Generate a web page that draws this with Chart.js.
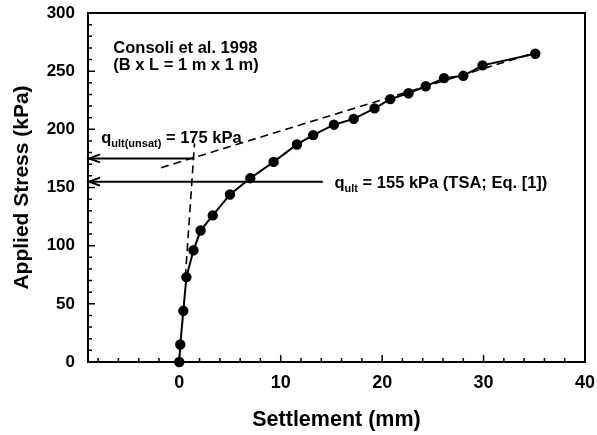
<!DOCTYPE html>
<html lang="en">
<head>
  <meta charset="UTF-8">
  <title>Consoli et al. 1998</title>
  <script src="https://cdn.jsdelivr.net/npm/chart.js"></script>
  <style>
    html, body { margin: 0; padding: 0; background: #fff; }
    #wrap { width: 597px; height: 435px; }
  </style>
</head>
<body>
  <div id="wrap"><canvas id="settle-chart" width="597" height="435"></canvas></div>

  <script>
    // measured load test
    const settlement = [0, 0.1, 0.4, 0.7, 1.4, 2.1, 3.3, 5.0, 7.0, 9.3, 11.6, 13.2, 15.25, 17.2, 19.25, 20.8, 22.6, 24.3, 26.1, 28.0, 29.9, 35.1];
    const stress = [0, 15, 44, 73, 96, 113, 126, 144, 158, 172, 187, 195, 204, 209, 218, 226, 231, 237, 244, 246, 255, 265];

    // tangent construction lines
    const upperTanX = [-1.8, 35.5];
    const upperTanY = [167, 267];
    const initTanX = [0.6, 1.5];
    const initTanY = [73, 188];

    // ultimate capacity arrows
    const qUnsat = 175;
    const qTsa = 155;
    const unsatArrowX = [1.48, -9];
    const tsaArrowX = [14.15, -9];

    // axes
    const xMin = -9, xMax = 40;
    const yMin = 0, yMax = 300;
    const xTickValues = [0, 10, 20, 30, 40];
    const yTickValues = [0, 50, 100, 150, 200, 250, 300];
    const xMinorTicks = [-8, -6, -4, -2, 2, 4, 6, 8, 12, 14, 16, 18, 22, 24, 26, 28, 32, 34, 36, 38];
    const yMinorTicks = [10, 20, 30, 40, 60, 70, 80, 90, 110, 120, 130, 140, 160, 170, 180, 190, 210, 220, 230, 240, 260, 270, 280, 290];

    const FONT = 'Liberation Sans, Arial, Helvetica, sans-serif';

    const pts = (xs, ys) => xs.map((x, i) => ({ x: x, y: ys[i] }));

    // frame, inward ticks, arrowheads and text labels
    const decorations = {
      id: 'decorations',
      afterDatasetsDraw(chart) {
        const ctx = chart.ctx;
        const xs = chart.scales.x, ys = chart.scales.y;
        const a = chart.chartArea;
        ctx.save();
        ctx.strokeStyle = '#000';
        ctx.fillStyle = '#000';

        ctx.lineWidth = 2;
        ctx.strokeRect(a.left, a.top, a.right - a.left, a.bottom - a.top);

        ctx.lineWidth = 1.5;
        ctx.beginPath();
        xTickValues.forEach(v => {
          const p = xs.getPixelForValue(v);
          ctx.moveTo(p, a.bottom); ctx.lineTo(p, a.bottom - 7);
        });
        xMinorTicks.forEach(v => {
          const p = xs.getPixelForValue(v);
          ctx.moveTo(p, a.bottom); ctx.lineTo(p, a.bottom - 4);
        });
        yTickValues.forEach(v => {
          const p = ys.getPixelForValue(v);
          ctx.moveTo(a.left, p); ctx.lineTo(a.left + 7, p);
        });
        yMinorTicks.forEach(v => {
          const p = ys.getPixelForValue(v);
          ctx.moveTo(a.left, p); ctx.lineTo(a.left + 4, p);
        });
        ctx.stroke();

        // open arrowheads at the stress axis
        ctx.lineWidth = 2;
        [qUnsat, qTsa].forEach(q => {
          const tx = xs.getPixelForValue(xMin) + 1;
          const ty = ys.getPixelForValue(q);
          ctx.beginPath();
          ctx.moveTo(tx + 11, ty - 4);
          ctx.lineTo(tx, ty);
          ctx.lineTo(tx + 11, ty + 4);
          ctx.stroke();
        });

        // text with optional subscript pieces
        const drawRich = (parts, x, y) => {
          let cx = x;
          parts.forEach(pt => {
            ctx.font = 'bold ' + (pt.sub ? 11 : 16.5) + 'px ' + FONT;
            ctx.fillText(pt.t, cx, y + (pt.sub ? 4 : 0));
            cx += ctx.measureText(pt.t).width;
          });
        };
        ctx.textBaseline = 'alphabetic';
        ctx.textAlign = 'left';

        drawRich([{ t: 'Consoli et al. 1998' }], xs.getPixelForValue(-6.5), ys.getPixelForValue(266));
        drawRich([{ t: '(B x L = 1 m x 1 m)' }], xs.getPixelForValue(-6.5), ys.getPixelForValue(251));
        drawRich([{ t: 'q' }, { t: 'ult(unsat)', sub: true }, { t: ' = 175 kPa' }],
          xs.getPixelForValue(-7.7), ys.getPixelForValue(188));
        drawRich([{ t: 'q' }, { t: 'ult', sub: true }, { t: ' = 155 kPa (TSA; Eq. [1])' }],
          xs.getPixelForValue(15.3), ys.getPixelForValue(150));

        ctx.restore();
      }
    };

    const ctx = document.getElementById('settle-chart').getContext('2d');
    const settleChart = new Chart(ctx, {
      type: 'scatter',
      data: {
        datasets: [{
          label: 'Measured',
          data: pts(settlement, stress),
          showLine: true,
          borderColor: '#000',
          backgroundColor: '#000',
          borderWidth: 2,
          pointRadius: 4.2,
          pointHoverRadius: 4.2,
          clip: false
        }, {
          label: 'Upper tangent',
          data: pts(upperTanX, upperTanY),
          showLine: true,
          borderColor: '#000',
          borderWidth: 1.6,
          borderDash: [8, 5],
          pointRadius: 0
        }, {
          label: 'Initial tangent',
          data: pts(initTanX, initTanY),
          showLine: true,
          borderColor: '#000',
          borderWidth: 1.6,
          borderDash: [8, 5],
          pointRadius: 0
        }, {
          label: 'q ult unsat',
          data: pts(unsatArrowX, unsatArrowX.map(() => qUnsat)),
          showLine: true,
          borderColor: '#000',
          borderWidth: 2,
          pointRadius: 0
        }, {
          label: 'q ult TSA',
          data: pts(tsaArrowX, tsaArrowX.map(() => qTsa)),
          showLine: true,
          borderColor: '#000',
          borderWidth: 2,
          pointRadius: 0
        }]
      },
      options: {
        responsive: false,
        animation: false,
        events: [],
        layout: { padding: { top: 13, right: 12, left: 0, bottom: 0 } },
        plugins: {
          legend: { display: false },
          tooltip: { enabled: false }
        },
        scales: {
          x: {
            type: 'linear',
            min: xMin,
            max: xMax,
            afterBuildTicks: s => { s.ticks = xTickValues.map(v => ({ value: v })); },
            afterFit: s => { s.height = 73; s.paddingLeft = 0; s.paddingRight = 0; },
            grid: { display: false, drawTicks: false },
            border: { display: false },
            ticks: {
              color: '#000',
              padding: 10,
              maxRotation: 0,
              font: { family: FONT, size: 18, weight: 'bold' }
            },
            title: {
              display: true,
              text: 'Settlement (mm)',
              color: '#000',
              padding: { top: 0, bottom: 2 },
              font: { family: FONT, size: 21.5, weight: 'bold' }
            }
          },
          y: {
            type: 'linear',
            min: yMin,
            max: yMax,
            afterBuildTicks: s => { s.ticks = yTickValues.map(v => ({ value: v })); },
            afterFit: s => { s.width = 88; s.paddingTop = 0; s.paddingBottom = 0; },
            grid: { display: false, drawTicks: false },
            border: { display: false },
            ticks: {
              color: '#000',
              padding: 13,
              font: { family: FONT, size: 17, weight: 'bold' }
            },
            title: {
              display: true,
              text: 'Applied Stress (kPa)',
              color: '#000',
              padding: { top: 10, bottom: 0 },
              font: { family: FONT, size: 21, weight: 'bold' }
            }
          }
        }
      },
      plugins: [decorations]
    });
  </script>
</body>
</html>
